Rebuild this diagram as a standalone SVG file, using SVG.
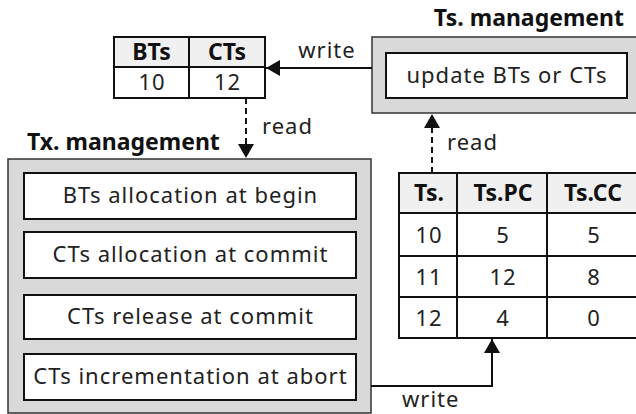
<svg xmlns="http://www.w3.org/2000/svg" width="636" height="414" viewBox="0 0 636 414">
  <defs>
    <style>
      text { font-family: "Noto Sans", "Noto Sans CJK JP", sans-serif; font-size: 22px; letter-spacing: 1px; fill: #222; }
      .b { font-weight: bold; font-size: 23px; letter-spacing: 0; fill: #111; }
      .c { text-anchor: middle; }
      .outer { fill: #d9d9d9; stroke: #333; stroke-width: 1.5; }
      .inner { fill: #fff; stroke: #111; stroke-width: 2; }
      .cell { fill: #fff; stroke: #111; stroke-width: 2; }
      .head { fill: #f0f0f0; stroke: #111; stroke-width: 2; }
      .solid { fill: none; stroke: #111; stroke-width: 2; }
      .dash { fill: none; stroke: #111; stroke-width: 2; stroke-dasharray: 6 4; }
    </style>
    <marker id="arrow" viewBox="0 0 14 16" refX="14" refY="8" markerWidth="14" markerHeight="16" markerUnits="userSpaceOnUse" orient="auto">
      <path d="M0,0 L14,8 L0,16 Z" fill="#111"/>
    </marker>
  </defs>

  <!-- BTs / CTs table -->
  <g id="bt-ct-table">
    <rect class="head" x="114" y="37" width="75" height="30"/>
    <rect class="head" x="189" y="37" width="76" height="30"/>
    <rect class="cell" x="114" y="67" width="75" height="31"/>
    <rect class="cell" x="189" y="67" width="76" height="31"/>
    <text class="b c" x="151.5" y="60">BTs</text>
    <text class="b c" x="227" y="60">CTs</text>
    <text class="c" x="152" y="90">10</text>
    <text class="c" x="227.5" y="90">12</text>
  </g>

  <!-- Timestamp management -->
  <g id="ts-management">
    <text class="b" x="624" y="26" text-anchor="end">Ts. management</text>
    <rect class="outer" x="372" y="37" width="272" height="76"/>
    <rect class="inner" x="386" y="53" width="241" height="45"/>
    <text class="c" x="507" y="83">update BTs or CTs</text>
  </g>

  <!-- Transaction management -->
  <g id="tx-management">
    <text class="b" x="27" y="150">Tx. management</text>
    <rect class="outer" x="8" y="159" width="363" height="254"/>
    <rect class="inner" x="24" y="173" width="332" height="46"/>
    <text class="c" x="190.5" y="203">BTs allocation at begin</text>
    <rect class="inner" x="24" y="232" width="332" height="46"/>
    <text class="c" x="190.5" y="262">CTs allocation at commit</text>
    <rect class="inner" x="24" y="295" width="332" height="44"/>
    <text class="c" x="190.5" y="324">CTs release at commit</text>
    <rect class="inner" x="24" y="354" width="332" height="46"/>
    <text class="c" x="190.5" y="384">CTs incrementation at abort</text>
  </g>

  <!-- Timestamp counter table -->
  <g id="ts-table">
    <rect class="head" x="399" y="173" width="58" height="40"/>
    <rect class="head" x="457" y="173" width="90" height="40"/>
    <rect class="head" x="547" y="173" width="93" height="40"/>
    <rect class="cell" x="399" y="213" width="58" height="43"/>
    <rect class="cell" x="457" y="213" width="90" height="43"/>
    <rect class="cell" x="547" y="213" width="93" height="43"/>
    <rect class="cell" x="399" y="256" width="58" height="41"/>
    <rect class="cell" x="457" y="256" width="90" height="41"/>
    <rect class="cell" x="547" y="256" width="93" height="41"/>
    <rect class="cell" x="399" y="297" width="58" height="41"/>
    <rect class="cell" x="457" y="297" width="90" height="41"/>
    <rect class="cell" x="547" y="297" width="93" height="41"/>
    <text class="b c" x="429" y="201">Ts.</text>
    <text class="b c" x="503" y="201">Ts.PC</text>
    <text class="b c" x="593" y="201">Ts.CC</text>
    <text class="c" x="429" y="243">10</text>
    <text class="c" x="503" y="243">5</text>
    <text class="c" x="594" y="243">5</text>
    <text class="c" x="429" y="285">11</text>
    <text class="c" x="503" y="285">12</text>
    <text class="c" x="594" y="285">8</text>
    <text class="c" x="429" y="326">12</text>
    <text class="c" x="503" y="326">4</text>
    <text class="c" x="594" y="326">0</text>
  </g>

  <!-- Connectors -->
  <g id="connectors">
    <path class="solid" d="M372,68 L266,68" marker-end="url(#arrow)"/>
    <text class="c" x="327" y="58">write</text>
    <path class="dash" d="M246,98 L246,158" marker-end="url(#arrow)"/>
    <text x="262" y="134">read</text>
    <path class="dash" d="M432,173 L432,114" marker-end="url(#arrow)"/>
    <text x="447" y="150">read</text>
    <path class="solid" d="M371,386 L492,386 L492,339" marker-end="url(#arrow)"/>
    <text x="402" y="407">write</text>
  </g>
</svg>
